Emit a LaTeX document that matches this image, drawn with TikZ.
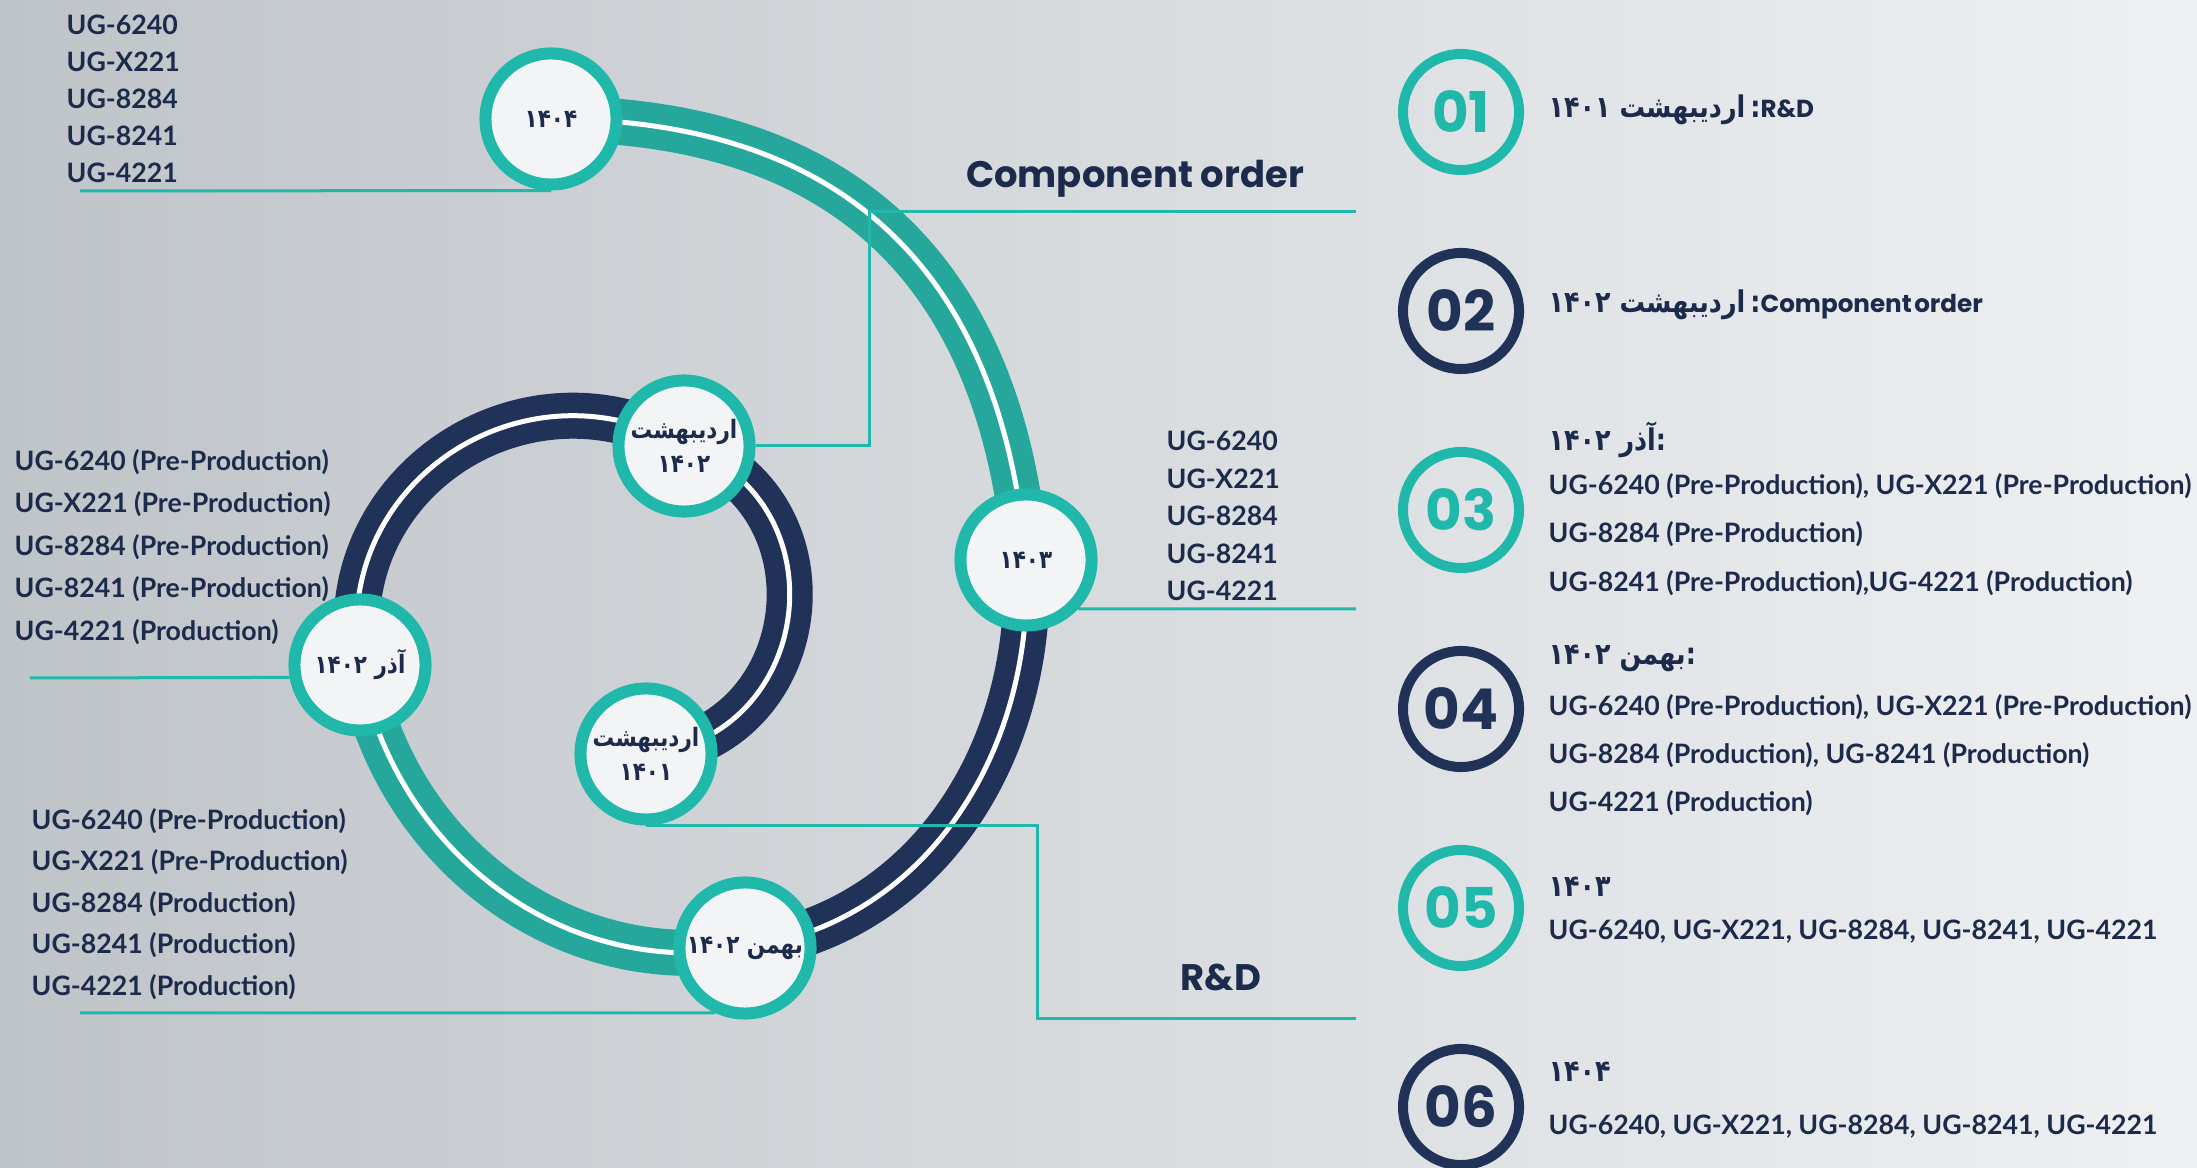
\documentclass[tikz,border=0pt]{standalone}
\usepackage{fontspec}
\setmainfont{Lato}
\newfontfamily\popfont{Poppins}
\newfontfamily\arabicfont[Script=Arabic, FakeStretch=0.85]{DejaVu Sans}
\TeXXeTstate=1
\definecolor{navy}{HTML}{213258}
\definecolor{tealband}{HTML}{25A79C}
\definecolor{tealring}{HTML}{1FB8AA}
\definecolor{ink}{HTML}{1C2A4B}
\definecolor{paper}{HTML}{F3F4F5}
\definecolor{bgL}{HTML}{BFC4C9}
\definecolor{bgM}{HTML}{D8DBDE}
\definecolor{bgR}{HTML}{EEF0F2}
\pgfdeclarelayer{bg}
\pgfdeclarelayer{bands}
\pgfsetlayers{bg,bands,main}

\begin{document}
\begin{tikzpicture}[x=0.01cm, y=0.01cm,
    band/.style={preaction={draw=#1, line width=0.46cm}, draw=white, line width=0.05cm},
    year/.style={circle, draw=tealring, line width=0.12cm, fill=paper, minimum size=1.31cm,
      inner sep=0pt, text=ink, align=center, font=\arabicfont\bfseries\fontsize{7.2}{9.5}\selectfont},
    leader/.style={draw=tealring, line width=0.03cm},
    part/.style={anchor=west, inner sep=0pt, text=ink, font=\bfseries\fontsize{7.6}{9}\selectfont},
    badge/.style={circle, draw=#1, text=#1, line width=0.1cm, minimum size=1.16cm, inner sep=0pt,
      font=\popfont\bfseries\fontsize{16}{17}\selectfont},
    head/.style={anchor=west, inner sep=0pt, text=ink, font=\arabicfont\bfseries\fontsize{8.5}{10}\selectfont},
    title/.style={inner sep=0pt, text=ink, font=\popfont\bfseries\fontsize{10.5}{12}\selectfont}]

  \useasboundingbox (0,0) rectangle (2197,-1168);
  \begin{pgfonlayer}{bg}
    \shade[left color=bgL, right color=bgR, middle color=bgM] (0,0) rectangle (2197,-1168);
  \end{pgfonlayer}

  % milestones
  \node[year] (c1401) at (646,-754) {\beginR اردیبهشت\endR\\\beginR ۱۴۰۱\endR};
  \node[year] (c1402) at (684,-446) {\beginR اردیبهشت\endR\\\beginR ۱۴۰۲\endR};
  \node[year] (cAzar) at (360,-665) {\beginR آذر ۱۴۰۲\endR};
  \node[year] (cBahman) at (745,-948) {\beginR بهمن ۱۴۰۲\endR};
  \node[year] (c1403) at (1026,-560) {\beginR ۱۴۰۳\endR};
  \node[year] (c1404) at (551,-119) {\beginR ۱۴۰۴\endR};

  % spiral
  \begin{pgfonlayer}{bands}
    \draw[band=navy] (c1401.center) to[out=5, in=-19, looseness=1.4] (c1402.center);
    \draw[band=navy] (c1402.center) to[out=150, in=100, looseness=1.2] (cAzar.center);
    \draw[band=tealband] (cAzar.center) to[out=-80, in=190] (cBahman.center);
    \draw[band=navy] (cBahman.center) to[out=8, in=-87] (c1403.center);
    \draw[band=tealband] (c1403.center) to[out=95, in=0, looseness=1.15] (c1404.center);
  \end{pgfonlayer}

  % parts per milestone
  \foreach \t [count=\i] in {UG-6240, UG-X221, UG-8284, UG-8241, UG-4221}
    \node[part] (top_\i) at (66, {-25-37*(\i-1)}) {\t};
  \foreach \t [count=\i] in {UG-6240, UG-X221, UG-8284, UG-8241, UG-4221}
    \node[part] (mid_\i) at (1166, {-441-37.5*(\i-1)}) {\t};
  \foreach \t [count=\i] in {UG-6240 (Pre-Production), UG-X221 (Pre-Production), UG-8284 (Pre-Production), UG-8241 (Pre-Production), UG-4221 (Production)}
    \node[part] (az_\i) at (14, {-462-42.5*(\i-1)}) {\t};
  \foreach \t [count=\i] in {UG-6240 (Pre-Production), UG-X221 (Pre-Production), UG-8284 (Production), UG-8241 (Production), UG-4221 (Production)}
    \node[part] (bh_\i) at (31, {-821-41.5*(\i-1)}) {\t};

  \node[title] (co) at (1135,-179) {Component order};
  \node[title] (rd) at (1221,-977) {R\&D};

  % leader lines
  \coordinate (e1404) at (80,-191);
  \coordinate (eAzar) at (30,-678);
  \coordinate (eBahman) at (80,-1013);
  \coordinate (e1403) at (1356,-609);
  \coordinate (co2) at (869,-212);
  \coordinate (co3) at (1356,-212);
  \coordinate (rd2) at (1037,-1019);
  \coordinate (rd3) at (1356,-1019);
  \draw[leader] (e1404) -- (c1404.south);
  \draw[leader] (eAzar) -- (cAzar.190);
  \draw[leader] (eBahman) -- (cBahman.-115);
  \draw[leader] (c1403.-43) -- (e1403);
  \draw[leader] (c1402.east) -| (co2) -- (co3);
  \draw[leader] (c1401.south) -| (rd2) -- (rd3);

  % legend
  \foreach \n/\c [count=\i] in {01/tealring, 02/navy, 03/tealring, 04/navy, 05/tealring, 06/navy}
    \node[badge=\c] (b\n) at (1461, {-112-199*(\i-1)}) {\n};

  \node[head] (h1) at (1548,-110) {\beginR\beginL{\popfont\fontsize{7}{8}\selectfont R\&D}\endL:\,اردیبهشت ۱۴۰۱\endR};
  \node[head] (h2) at (1548,-305) {\beginR\beginL{\popfont\fontsize{7}{8}\selectfont Component\hspace{0.1em}order}\endL:\,اردیبهشت ۱۴۰۲\endR};
  \node[head] (h3) at (1548,-440) {\beginR:آذر ۱۴۰۲\endR};
  \node[part] (l3a) at (1548,-486) {UG-6240 (Pre-Production), UG-X221 (Pre-Production)};
  \node[part] (l3b) at (1548,-534) {UG-8284 (Pre-Production)};
  \node[part] (l3c) at (1548,-583) {UG-8241 (Pre-Production),UG-4221 (Production)};
  \node[head] (h4) at (1548,-658) {\beginR:بهمن ۱۴۰۲\endR};
  \node[part] (l4a) at (1548,-707) {UG-6240 (Pre-Production), UG-X221 (Pre-Production)};
  \node[part] (l4b) at (1548,-755) {UG-8284 (Production), UG-8241 (Production)};
  \node[part] (l4c) at (1548,-803) {UG-4221 (Production)};
  \node[head] (h5) at (1548,-887) {\beginR ۱۴۰۳\endR};
  \node[part] (l5) at (1548,-932) {UG-6240, UG-X221, UG-8284, UG-8241, UG-4221};
  \node[head] (h6) at (1548,-1072) {\beginR ۱۴۰۴\endR};
  \node[part] (l6) at (1548,-1127) {UG-6240, UG-X221, UG-8284, UG-8241, UG-4221};
\end{tikzpicture}
\end{document}
